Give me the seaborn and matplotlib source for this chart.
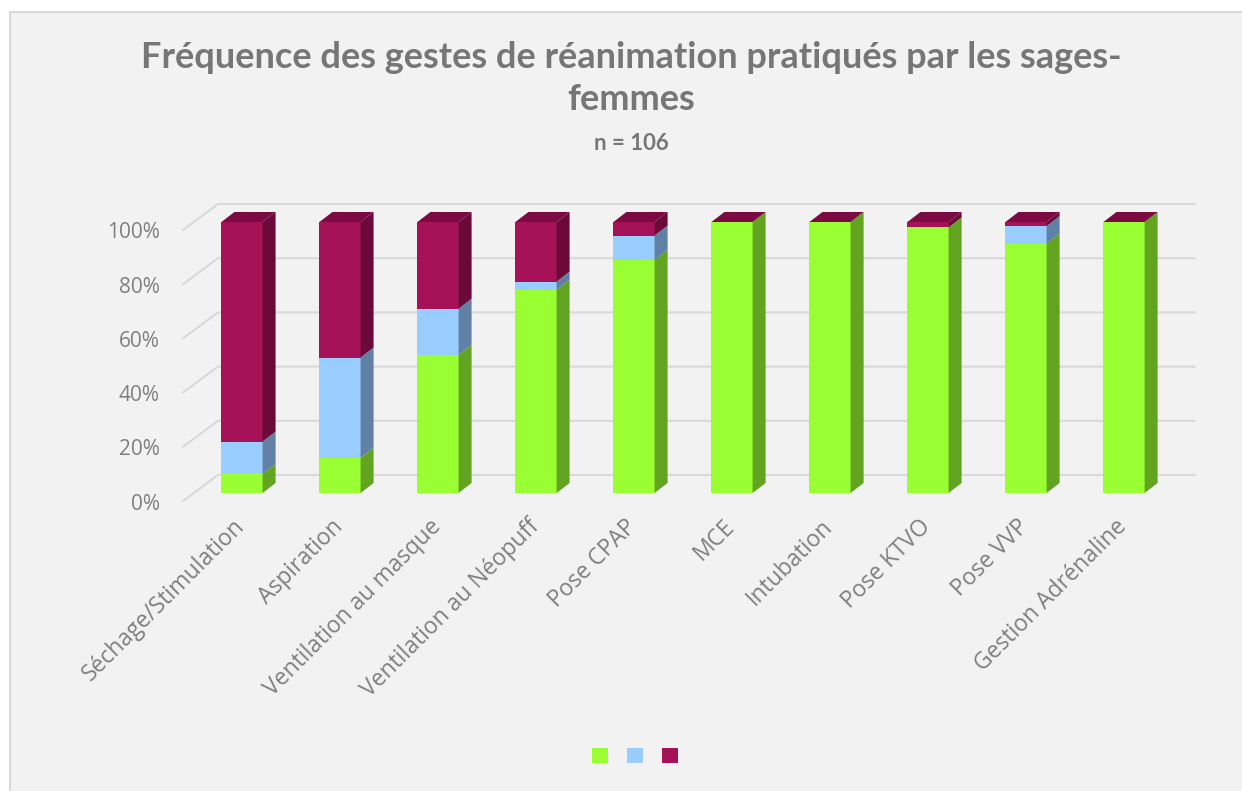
import matplotlib.pyplot as plt
import numpy as np
import pandas as pd
import seaborn as sns
from matplotlib.lines import Line2D
from matplotlib.patches import Patch, Polygon, Rectangle
from matplotlib.transforms import IdentityTransform, ScaledTranslation


sns.set_theme(style="white")
plt.rcParams["font.family"] = ["Open Sans", "DejaVu Sans"]

categories = [
    "Séchage/Stimulation",
    "Aspiration",
    "Ventilation au masque",
    "Ventilation au Néopuff",
    "Pose CPAP",
    "MCE",
    "Intubation",
    "Pose KTVO",
    "Pose VVP",
    "Gestion Adrénaline",
]
green_vals = [7, 13, 51, 75, 86, 100, 100, 98, 92, 100]
blue_vals = [12, 37, 17, 3, 9, 0, 0, 0, 6.5, 0]
red_vals = [81, 50, 32, 22, 5, 0, 0, 2, 1.5, 0]
y_ticks = [0, 20, 40, 60, 80, 100]

front = {"green": "#99ff33", "blue": "#99ccff", "red": "#a51257"}
side = {"green": "#62a31f", "blue": "#6080a6", "red": "#6b0a38"}
top_color = "#7c0a42"

df = pd.DataFrame(
    {"geste": categories, "green": green_vals, "blue": blue_vals, "red": red_vals}
)
df["cum_blue"] = df["green"] + df["blue"]
df["cum_red"] = df["cum_blue"] + df["red"]

W, H = 1242, 791
fig = plt.figure(figsize=(W / 100, H / 100), dpi=100, facecolor="white")
fig.patches.append(
    Rectangle((10 / W, -0.1), 1.1, 1.1 - 12 / H, transform=fig.transFigure,
              facecolor="#f2f2f2", edgecolor="#d9d9d9", lw=1.5, zorder=-5)
)

ax = fig.add_axes([183 / W, (H - 493) / H, 977 / W, 271 / H])
ax.set_facecolor("none")

bar_w = 0.42
for col, key in [("cum_red", "red"), ("cum_blue", "blue"), ("green", "green")]:
    sns.barplot(data=df, x="geste", y=col, color=front[key], saturation=1,
                width=bar_w, errorbar=None, ax=ax, zorder=3, linewidth=0)

ax.set_xlim(-0.602, 9.367)
ax.set_ylim(0, 100)
for s in ax.spines.values():
    s.set_visible(False)

# pseudo-3D faces, computed from the data through the axes transform
dx, dy = 13, 10
to_px = ax.transData.transform
for i in range(len(df)):
    segs = [(0, df["green"][i], "green"),
            (df["green"][i], df["cum_blue"][i], "blue"),
            (df["cum_blue"][i], df["cum_red"][i], "red")]
    for y0, y1, key in segs:
        if y1 - y0 <= 0:
            continue
        (xr, p0), (_, p1) = to_px([(i + bar_w / 2, y0), (i + bar_w / 2, y1)])
        ax.add_patch(Polygon([(xr, p0), (xr + dx, p0 + dy), (xr + dx, p1 + dy), (xr, p1)],
                             closed=True, transform=IdentityTransform(),
                             facecolor=side[key], edgecolor="none",
                             zorder=3, clip_on=False))
    (xl, pt), (xr, _) = to_px([(i - bar_w / 2, df["cum_red"][i]), (i + bar_w / 2, df["cum_red"][i])])
    ax.add_patch(Polygon([(xl, pt), (xl + dx, pt + dy), (xr + dx, pt + dy), (xr, pt)],
                         closed=True, transform=IdentityTransform(),
                         facecolor=top_color, edgecolor="none",
                         zorder=4, clip_on=False))

# back-wall gridlines
x_left = ax.transAxes.transform((0, 0))[0]
x_right = ax.transAxes.transform((1, 0))[0]
for v in y_ticks:
    py = to_px((0, v))[1]
    ax.add_line(Line2D([x_left, x_left + 35, x_right + 35],
                       [py - 8, py + 18, py + 18],
                       transform=IdentityTransform(), color="#d9d9d9",
                       lw=1.5, zorder=1, clip_on=False))

ax.set_yticks(y_ticks)
ax.set_yticklabels([])
ax.tick_params(axis="y", length=0)
lab_tr = ax.get_yaxis_transform() + ScaledTranslation(-0.23, -0.11, fig.dpi_scale_trans)
for v in y_ticks:
    ax.text(0, v, f"{v}%", transform=lab_tr, ha="right", va="center",
            fontsize=15, color="#7f7f7f")

ax.set_xlabel("")
ax.set_ylabel("")
ax.set_xticks(range(len(categories)))
ax.set_xticklabels(categories, rotation=45, ha="right", va="top",
                   rotation_mode="anchor", fontsize=16.5, color="#7f7f7f")
ax.tick_params(axis="x", length=0, pad=17)
shift = ScaledTranslation(-0.09, 0.02, fig.dpi_scale_trans)
for lab in ax.get_xticklabels():
    lab.set_transform(lab.get_transform() + shift)

fig.text(631 / W, 1 - 57 / H, "Fréquence des gestes de réanimation pratiqués par les sages-",
         ha="center", va="center", fontsize=26, fontweight="bold",
         color="#767676", family=["Lato", "DejaVu Sans"])
fig.text(631 / W, 1 - 100 / H, "femmes", ha="center", va="center", fontsize=26,
         fontweight="bold", color="#767676", family=["Lato", "DejaVu Sans"])
fig.text(631 / W, 1 - 143 / H, "n = 106", ha="center", va="center", fontsize=16,
         fontweight="bold", color="#767676", family=["Lato", "DejaVu Sans"])

handles = [Patch(facecolor=front[k], edgecolor="none") for k in ["green", "blue", "red"]]
fig.legend(handles, ["", "", ""], loc="center", bbox_to_anchor=(635 / W, 1 - 757 / H),
           ncol=3, frameon=False, fontsize=12, handlelength=1.0, handleheight=1.0,
           handletextpad=0, columnspacing=1.1)

plt.savefig("out.png", dpi=100, facecolor=fig.get_facecolor())
